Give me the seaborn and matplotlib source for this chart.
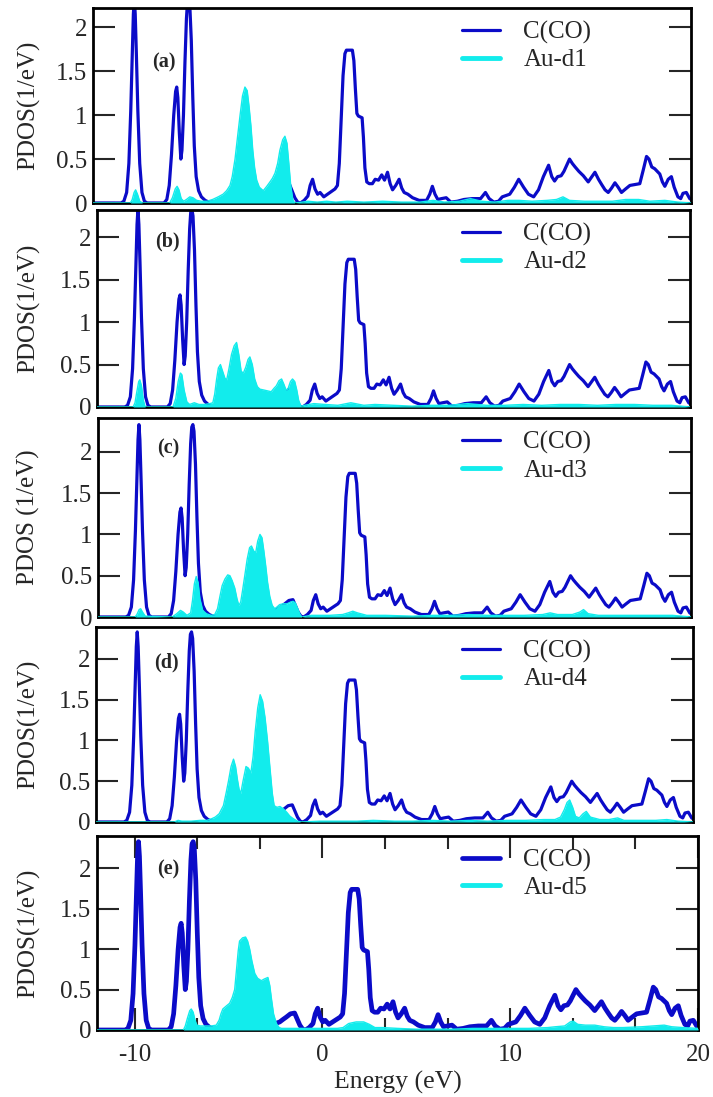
import matplotlib
matplotlib.use("Agg")
import matplotlib.pyplot as plt
import seaborn as sns
from matplotlib.lines import Line2D
from matplotlib.ticker import MultipleLocator, FuncFormatter

# ---- data ----
C_CO_E = [-12.0, -10.5, -10.35, -10.2, -10.08, -9.98, -9.9, -9.84, -9.79, -9.74, -9.68, -9.6, -9.5,
          -9.38, -9.25, -9.1, -8.2, -8.05, -7.92, -7.8, -7.68, -7.58, -7.52, -7.46, -7.38, -7.3,
          -7.24, -7.16, -7.08, -7.0, -6.94, -6.88, -6.82, -6.74, -6.66, -6.58, -6.48, -6.35, -6.2,
          -6.0, -5.8, -4.5, -3.5, -2.8, -2.5, -2.27, -2.1, -1.92, -1.7, -1.48, -1.35, -1.2, -1.05,
          -0.9, -0.7, -0.5, -0.38, -0.25, -0.12, 0.02, 0.15, 0.35, 0.55, 0.75, 0.95, 1.08, 1.18,
          1.28, 1.38, 1.48, 1.56, 1.88, 1.96, 2.04, 2.12, 2.2, 2.4, 2.47, 2.55, 2.65, 2.78, 2.95,
          3.1, 3.28, 3.45, 3.6, 3.76, 3.9, 4.03, 4.2, 4.38, 4.52, 4.65, 4.85, 5.1, 5.45, 5.85,
          6.02, 6.16, 6.3, 6.45, 6.65, 6.9, 7.15, 7.5, 7.85, 8.3, 8.74, 9.0, 9.2, 9.45, 9.7, 9.9,
          10.3, 10.55, 10.78, 11.04, 11.3, 11.58, 11.84, 12.1, 12.38, 12.55, 12.7, 12.86, 13.05,
          13.2, 13.5, 13.65, 13.8, 14.0, 14.24, 14.5, 14.7, 14.86, 15.05, 15.22, 15.4, 15.57,
          15.75, 15.93, 16.1, 16.28, 16.5, 16.73, 17.0, 17.26, 17.45, 17.62, 17.75, 17.9, 18.06,
          18.33, 18.47, 18.6, 18.78, 18.95, 19.1, 19.3, 19.45, 19.57, 19.75, 19.93, 20.0]
C_CO = [0.0, 0.0, 0.02, 0.12, 0.45, 1.05, 1.7, 2.15, 2.33, 2.15, 1.7, 1.05, 0.45,
        0.12, 0.02, 0.0, 0.0, 0.04, 0.2, 0.55, 1.0, 1.27, 1.32, 1.2, 0.8, 0.5,
        0.6, 1.0, 1.6, 2.1, 2.3, 2.33, 2.25, 1.85, 1.2, 0.65, 0.3, 0.14, 0.07,
        0.03, 0.01, 0.02, 0.04, 0.06, 0.08, 0.1, 0.13, 0.16, 0.2, 0.21, 0.14, 0.06, 0.01,
        0.0, 0.03, 0.08, 0.2, 0.27, 0.16, 0.1, 0.12, 0.07, 0.1, 0.13, 0.16, 0.2, 0.45,
        0.95, 1.45, 1.7, 1.74, 1.74, 1.62, 1.3, 1.02, 0.99, 0.97, 0.75, 0.4, 0.24, 0.22, 0.22,
        0.27, 0.26, 0.32, 0.26, 0.35, 0.22, 0.15, 0.2, 0.27, 0.17, 0.12, 0.1, 0.06, 0.03, 0.03,
        0.1, 0.19, 0.1, 0.04, 0.05, 0.06, 0.01, 0.02, 0.04, 0.05, 0.05, 0.12, 0.05, 0.01, 0.02, 0.07,
        0.1, 0.18, 0.27, 0.18, 0.1, 0.07, 0.15, 0.3, 0.43, 0.3, 0.25, 0.3, 0.31,
        0.36, 0.5, 0.45, 0.41, 0.36, 0.31, 0.24, 0.3, 0.35, 0.27, 0.21, 0.15, 0.12,
        0.17, 0.23, 0.18, 0.12, 0.16, 0.2, 0.21, 0.22, 0.38, 0.53, 0.5, 0.41, 0.39,
        0.33, 0.24, 0.19, 0.27, 0.3, 0.18, 0.07, 0.05, 0.11, 0.12, 0.05, 0.04]

AU_D1_E = [-12.0, -10.0, -9.9, -9.8, -9.72, -9.62, -9.5, -9.35, -7.9, -7.75, -7.6, -7.5, -7.4, -7.28,
           -7.15, -7.0, -6.82, -6.65, -6.45, -6.2, -5.9, -5.6, -5.3, -5.04, -4.85, -4.67, -4.55,
           -4.4, -4.25, -4.13, -4.0, -3.87, -3.75, -3.65, -3.55, -3.45, -3.35, -3.24, -3.1, -2.89,
           -2.7, -2.53, -2.4, -2.26, -2.12, -2.0, -1.85, -1.73, -1.62, -1.52, -1.42, -1.3, -1.2,
           -0.8, -0.5, 0.0, 0.5, 1.0, 1.6, 2.5, 3.5, 4.5, 5.5, 6.2, 6.8, 7.6, 8.2, 8.8, 9.5, 10.2,
           10.8, 11.5, 12.3, 12.8, 13.15, 13.5, 14.3, 15.0, 15.8, 16.5, 17.2, 17.8, 18.6, 19.3, 20.0]
AU_D1 = [0.0, 0.0, 0.04, 0.12, 0.15, 0.1, 0.02, 0.0, 0.0, 0.06, 0.16, 0.19, 0.15, 0.05,
         0.02, 0.04, 0.07, 0.06, 0.03, 0.02, 0.02, 0.04, 0.07, 0.1, 0.14, 0.2, 0.3,
         0.5, 0.78, 1.0, 1.22, 1.32, 1.28, 1.1, 0.88, 0.6, 0.4, 0.26, 0.18, 0.14,
         0.19, 0.24, 0.28, 0.34, 0.45, 0.6, 0.72, 0.76, 0.68, 0.45, 0.2, 0.03, 0.0,
         0.01, 0.02, 0.01, 0.02, 0.01, 0.02, 0.01, 0.02, 0.01, 0.01, 0.03, 0.01, 0.02, 0.05, 0.02, 0.01, 0.03,
         0.03, 0.02, 0.03, 0.04, 0.07, 0.03, 0.02, 0.02, 0.02, 0.04, 0.04, 0.02, 0.03, 0.01, 0.0]

AU_D2_E = [-12.0, -10.05, -9.95, -9.85, -9.75, -9.69, -9.6, -9.5, -9.4, -7.9, -7.75, -7.62, -7.5,
           -7.42, -7.3, -7.15, -7.0, -6.75, -6.5, -6.2, -5.9, -5.75, -5.65, -5.55, -5.45, -5.34,
           -5.22, -5.1, -5.0, -4.88, -4.74, -4.6, -4.47, -4.35, -4.22, -4.1, -3.97, -3.85, -3.75,
           -3.62, -3.49, -3.35, -3.21, -3.0, -2.8, -2.6, -2.45, -2.32, -2.18, -2.04, -1.92, -1.8,
           -1.7, -1.56, -1.45, -1.33, -1.22, -1.12, -1.0, -0.8, -0.3, 0.3, 1.0, 1.7, 2.4, 3.0, 4.0,
           5.0, 6.0, 7.0, 8.0, 9.0, 10.0, 11.0, 12.0, 13.0, 14.0, 15.0, 16.0, 17.0, 18.0, 19.0, 20.0]
AU_D2 = [0.0, 0.0, 0.05, 0.18, 0.3, 0.32, 0.25, 0.08, 0.0, 0.0, 0.1, 0.3, 0.4,
         0.38, 0.2, 0.06, 0.03, 0.05, 0.03, 0.03, 0.04, 0.05, 0.15, 0.32, 0.46, 0.5,
         0.42, 0.34, 0.32, 0.45, 0.62, 0.72, 0.76, 0.62, 0.42, 0.4, 0.47, 0.56, 0.59,
         0.5, 0.33, 0.24, 0.21, 0.2, 0.19, 0.18, 0.22, 0.25, 0.31, 0.33, 0.27, 0.2,
         0.21, 0.3, 0.33, 0.3, 0.2, 0.08, 0.01, 0.02, 0.04, 0.03, 0.02, 0.05, 0.02, 0.03, 0.02,
         0.01, 0.02, 0.02, 0.04, 0.02, 0.02, 0.03, 0.02, 0.03, 0.03, 0.02, 0.03, 0.03, 0.02, 0.02, 0.0]

AU_D3_E = [-12.0, -10.0, -9.9, -9.78, -9.7, -9.6, -9.45, -8.0, -7.75, -7.55, -7.4, -7.2, -7.0, -6.9,
           -6.8, -6.7, -6.6, -6.5, -6.35, -6.15, -5.9, -5.7, -5.55, -5.42, -5.3, -5.15, -5.0, -4.88,
           -4.76, -4.62, -4.5, -4.4, -4.3, -4.2, -4.08, -3.95, -3.82, -3.72, -3.6, -3.49, -3.38,
           -3.26, -3.15, -3.05, -2.95, -2.85, -2.73, -2.6, -2.46, -2.35, -2.2, -2.0, -1.8, -1.6,
           -1.47, -1.35, -1.22, -1.1, -1.0, -0.5, 0.5, 1.2, 1.5, 1.75, 2.0, 2.5, 3.5, 5.0, 6.0, 7.0,
           8.0, 9.0, 10.0, 11.0, 12.0, 12.4, 12.8, 13.6, 14.0, 14.2, 14.45, 15.0, 16.0, 17.0, 18.0,
           19.0, 20.0]
AU_D3 = [0.0, 0.0, 0.03, 0.09, 0.1, 0.06, 0.01, 0.0, 0.04, 0.08, 0.06, 0.02, 0.05, 0.2,
         0.4, 0.49, 0.42, 0.22, 0.08, 0.04, 0.02, 0.03, 0.1, 0.25, 0.38, 0.46, 0.51, 0.5,
         0.44, 0.35, 0.22, 0.14, 0.18, 0.32, 0.5, 0.7, 0.84, 0.86, 0.8, 0.78, 0.92,
         1.0, 0.96, 0.8, 0.62, 0.42, 0.25, 0.14, 0.1, 0.12, 0.15, 0.16, 0.16, 0.18,
         0.19, 0.17, 0.1, 0.03, 0.0, 0.02, 0.02, 0.03, 0.05, 0.07, 0.05, 0.02, 0.02, 0.01, 0.02, 0.02,
         0.03, 0.02, 0.02, 0.02, 0.03, 0.05, 0.03, 0.03, 0.06, 0.09, 0.04, 0.02, 0.02, 0.02, 0.02,
         0.02, 0.0]

AU_D4_E = [-12.0, -7.8, -7.6, -7.4, -6.9, -6.4, -6.06, -5.8, -5.61, -5.4, -5.17, -5.03, -4.9, -4.76,
           -4.63, -4.52, -4.42, -4.33, -4.24, -4.12, -3.96, -3.83, -3.7, -3.58, -3.47, -3.33, -3.2,
           -3.07, -2.94, -2.8, -2.67, -2.55, -2.45, -2.3, -2.14, -1.95, -1.78, -1.6, -1.42, -1.2,
           -1.0, 0.0, 1.0, 2.0, 2.86, 4.0, 5.0, 6.0, 7.0, 8.0, 9.0, 10.0, 11.0, 12.0, 12.6, 12.9,
           13.1, 13.25, 13.39, 13.55, 13.7, 13.9, 14.1, 14.28, 14.5, 15.0, 15.5, 15.96, 16.3, 17.0,
           18.0, 18.6, 19.2, 20.0]
AU_D4 = [0.0, 0.0, 0.02, 0.01, 0.01, 0.02, 0.02, 0.04, 0.06, 0.1, 0.2, 0.35, 0.5, 0.68,
         0.77, 0.68, 0.52, 0.4, 0.35, 0.5, 0.68, 0.66, 0.6, 0.8, 1.1, 1.4, 1.56,
         1.48, 1.28, 0.98, 0.65, 0.35, 0.2, 0.18, 0.19, 0.16, 0.12, 0.07, 0.04, 0.01,
         0.0, 0.01, 0.01, 0.01, 0.02, 0.01, 0.01, 0.02, 0.01, 0.02, 0.01, 0.02, 0.02, 0.03, 0.03, 0.06,
         0.15, 0.24, 0.27, 0.18, 0.07, 0.05, 0.1, 0.13, 0.06, 0.03, 0.03, 0.05, 0.02, 0.02,
         0.02, 0.03, 0.01, 0.0]

AU_D5_E = [-12.0, -7.4, -7.3, -7.18, -7.06, -6.98, -6.88, -6.78, -6.68, -6.5, -6.18, -5.9, -5.65,
           -5.5, -5.4, -5.3, -5.1, -4.94, -4.8, -4.67, -4.57, -4.48, -4.41, -4.25, -4.09, -3.98,
           -3.87, -3.75, -3.6, -3.45, -3.25, -3.1, -2.9, -2.8, -2.72, -2.6, -2.45, -2.3, -2.18,
           -1.5, 0.0, 0.8, 1.1, 1.4, 1.8, 2.2, 2.5, 2.8, 3.2, 4.0, 5.0, 6.0, 7.0, 8.0, 9.0, 10.0,
           11.0, 12.0, 12.4, 12.9, 13.2, 13.35, 13.6, 14.0, 14.5, 15.0, 15.5, 16.0, 17.0, 17.6,
           18.2, 18.6, 19.2, 20.0]
AU_D5 = [0.0, 0.0, 0.05, 0.15, 0.24, 0.26, 0.22, 0.12, 0.06, 0.05, 0.05, 0.05, 0.06,
         0.12, 0.2, 0.26, 0.3, 0.33, 0.4, 0.5, 0.75, 0.98, 1.1, 1.14, 1.15, 1.1,
         1.0, 0.85, 0.7, 0.64, 0.61, 0.63, 0.65, 0.55, 0.4, 0.2, 0.08, 0.03, 0.02,
         0.02, 0.02, 0.02, 0.03, 0.08, 0.1, 0.1, 0.07, 0.03, 0.03, 0.02, 0.01, 0.01, 0.01, 0.02, 0.02, 0.02,
         0.02, 0.03, 0.04, 0.05, 0.1, 0.11, 0.07, 0.06, 0.06, 0.04, 0.03, 0.03, 0.04, 0.05,
         0.06, 0.04, 0.03, 0.02]

PANEL_TAGS = ["(a)", "(b)", "(c)", "(d)", "(e)"]
AU_LABELS = ["Au-d1", "Au-d2", "Au-d3", "Au-d4", "Au-d5"]
Y_LABELS = ["PDOS(1/eV)", "PDOS(1/eV)", "PDOS (1/eV)", "PDOS(1/eV)", "PDOS(1/eV)"]
AU_E = [AU_D1_E, AU_D2_E, AU_D3_E, AU_D4_E, AU_D5_E]
AU_VALS = [AU_D1, AU_D2, AU_D3, AU_D4, AU_D5]
Y_TOPS = [2.22, 2.32, 2.41, 2.39, 2.4]
X_TICKS = [-10, 0, 10, 20]

# ---- layout (pixels in a 713x1097 canvas: left, right, top, bottom) ----
W, H = 713, 1097
BOXES = [(93, 691, 8, 203), (97, 690, 210, 407), (98, 691, 418, 617),
         (96, 693, 627, 822), (97, 698, 836, 1030)]
TAG_Y = [0.72, 0.84, 0.845, 0.82, 0.825]

BLUE = "#0b0bc8"
CYAN = "#12ecec"

sns.set_style("ticks")
plt.rcParams["font.family"] = ["Liberation Serif", "DejaVu Serif"]
plt.rcParams["axes.unicode_minus"] = False

fig = plt.figure(figsize=(W / 100, H / 100), dpi=100)

for i in range(5):
    l, r, t, b = BOXES[i]
    ax = fig.add_axes([l / W, 1 - b / H, (r - l) / W, (b - t) / H])
    last = i == 4
    lw = 3.4 if last else 2.3

    sns.lineplot(x=C_CO_E, y=C_CO, ax=ax, color=BLUE, lw=lw, estimator=None,
                 sort=False, zorder=2)
    ax.fill_between(AU_E[i], 0, AU_VALS[i], color=CYAN, lw=0, zorder=3)
    sns.lineplot(x=AU_E[i], y=AU_VALS[i], ax=ax, color=CYAN, lw=1.0, estimator=None,
                 sort=False, zorder=3)

    ax.set_xlim(-12, 20)
    ax.set_ylim(0, Y_TOPS[i])
    ax.yaxis.set_major_locator(MultipleLocator(0.5))
    ax.yaxis.set_major_formatter(FuncFormatter(lambda v, p: f"{v:g}"))
    ax.tick_params(axis="y", which="major", direction="in", length=16, width=1.5,
                   left=True, right=True, labelsize=18, pad=4)
    for s in ax.spines.values():
        s.set_linewidth(2)
        s.set_color("black")
        s.set_visible(True)

    if last:
        ax.set_xticks(X_TICKS)
        ax.xaxis.set_minor_locator(MultipleLocator(10 / 3))
        ax.tick_params(axis="x", which="major", direction="in", length=16, width=1.5,
                       top=True, bottom=True, labelsize=18, pad=10)
        ax.tick_params(axis="x", which="minor", direction="in", length=9, width=1.5,
                       top=True, bottom=True)
        ax.set_xlabel("Energy (eV)", fontsize=18.5)
        ax.xaxis.set_label_coords(0.5, -0.21)
    else:
        ax.tick_params(axis="x", which="both", bottom=False, top=False, labelbottom=False)
        ax.set_xlabel("")

    ax.set_ylabel(Y_LABELS[i], fontsize=18)
    ax.yaxis.set_label_coords((40 - l) / (r - l), 0.5)

    ax.text(0.118, TAG_Y[i], PANEL_TAGS[i], transform=ax.transAxes, fontsize=14.5,
            fontweight="bold", ha="center", va="center")

    handles = [Line2D([], [], color=BLUE, lw=lw), Line2D([], [], color=CYAN, lw=3.5)]
    ax.legend(handles, ["C(CO)", AU_LABELS[i]], loc="upper left",
              bbox_to_anchor=((462 - l) / (r - l), 0.935), frameon=False, fontsize=18,
              handlelength=1.5, handletextpad=0.95, labelspacing=0.2, borderpad=0,
              borderaxespad=0)

fig.savefig("out.png", dpi=100)
